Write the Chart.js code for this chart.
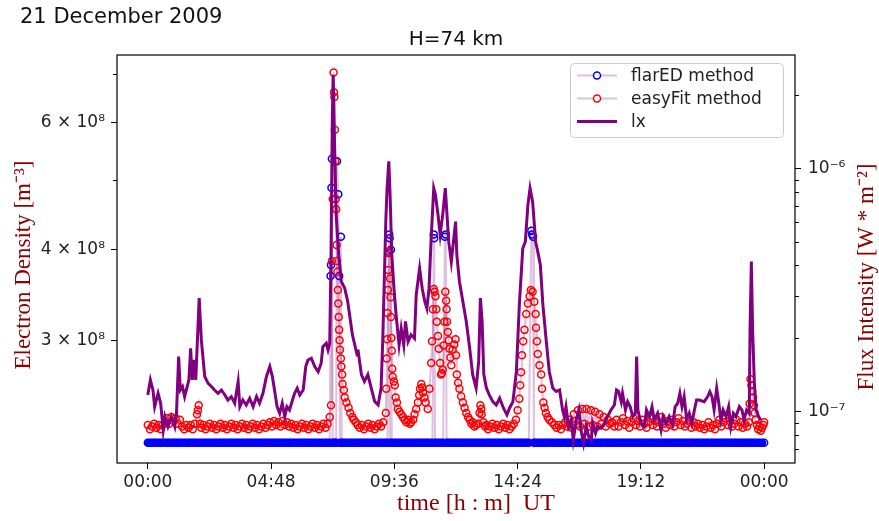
<!DOCTYPE html>
<html>
<head>
<meta charset="utf-8">
<script src="https://cdn.jsdelivr.net/npm/chart.js@4.4.1/dist/chart.umd.min.js"></script>
<style>
  html, body { margin: 0; padding: 0; background: #fff; }
  canvas { display: block; }
</style>
</head>
<body>
<canvas id="fluxChart" width="879" height="521"></canvas>
<script>
// units used in the arrays below
const NE_UNIT = 1e8;   // electron density, m^-3
const LX_UNIT = 1e-7;  // X-ray flux, W m^-2

// x axis: minutes since 00:00 UT
const xTickMin = [0, 288, 576, 864, 1152, 1440];
const xTickLabels = ["00:00", "04:48", "09:36", "14:24", "19:12", "00:00"];

// left axis ticks (log)
const neTicks = [3e8, 4e8, 6e8];
const neTickLabels = ["3 × 10⁸", "4 × 10⁸", "6 × 10⁸"];
const neMinor = [5e8, 7e8];

// right axis ticks (log)
const lxTicks = [1e-7, 1e-6];
const lxTickLabels = ["10⁻⁷", "10⁻⁶"];
const lxMinor = [7e-8, 8e-8, 9e-8, 2e-7, 3e-7, 4e-7, 5e-7, 6e-7, 7e-7, 8e-7, 9e-7, 2e-6];

// flarED method (Ne, x1e8)
const flaredMin = [
    0, 5, 10, 15, 20, 25, 30, 35, 40, 45,
    50, 55, 60, 65, 70, 75, 80, 85, 90, 95,
    100, 105, 110, 115, 120, 125, 130, 135, 140, 145,
    150, 155, 160, 165, 170, 175, 180, 185, 190, 195,
    200, 205, 210, 215, 220, 225, 230, 235, 240, 245,
    250, 255, 260, 265, 270, 275, 280, 285, 290, 295,
    300, 305, 310, 315, 320, 325, 330, 335, 340, 345,
    350, 355, 360, 365, 370, 375, 380, 385, 390, 395,
    400, 405, 410, 415, 420, 425, 427, 428, 429, 430,
    432, 435, 438, 440, 442, 445, 447, 449, 451, 453,
    455, 460, 465, 470, 475, 480, 485, 490, 495, 500,
    505, 510, 515, 520, 525, 530, 535, 540, 545, 550,
    555, 560, 563, 564, 565, 566, 568, 570, 575, 580,
    585, 590, 595, 600, 605, 610, 615, 620, 625, 630,
    635, 640, 645, 650, 655, 660, 665, 668, 669, 671,
    675, 680, 685, 690, 694, 696, 698, 700, 705, 710,
    715, 720, 725, 730, 735, 740, 745, 750, 755, 760,
    765, 770, 775, 780, 785, 790, 795, 800, 805, 810,
    815, 820, 825, 830, 835, 840, 845, 850, 855, 860,
    865, 870, 875, 880, 885, 890, 896, 898, 900, 902,
    905, 910, 915, 920, 925, 930, 935, 940, 945, 950,
    955, 960, 965, 970, 975, 980, 985, 990, 995, 1000,
    1005, 1010, 1015, 1020, 1025, 1030, 1035, 1040, 1045, 1050,
    1055, 1060, 1065, 1070, 1075, 1080, 1085, 1090, 1095, 1100,
    1105, 1110, 1115, 1120, 1125, 1130, 1135, 1140, 1145, 1150,
    1155, 1160, 1165, 1170, 1175, 1180, 1185, 1190, 1195, 1200,
    1205, 1210, 1215, 1220, 1225, 1230, 1235, 1240, 1245, 1250,
    1255, 1260, 1265, 1270, 1275, 1280, 1285, 1290, 1295, 1300,
    1305, 1310, 1315, 1320, 1325, 1330, 1335, 1340, 1345, 1350,
    1355, 1360, 1365, 1370, 1375, 1380, 1385, 1390, 1395, 1400,
    1405, 1410, 1415, 1420, 1425, 1430, 1435, 1440
];
const flaredNe = [
    2.165, 2.165, 2.165, 2.165, 2.165, 2.165, 2.165, 2.165, 2.165, 2.165,
    2.165, 2.165, 2.165, 2.165, 2.165, 2.165, 2.165, 2.165, 2.165, 2.165,
    2.165, 2.165, 2.165, 2.165, 2.165, 2.165, 2.165, 2.165, 2.165, 2.165,
    2.165, 2.165, 2.165, 2.165, 2.165, 2.165, 2.165, 2.165, 2.165, 2.165,
    2.165, 2.165, 2.165, 2.165, 2.165, 2.165, 2.165, 2.165, 2.165, 2.165,
    2.165, 2.165, 2.165, 2.165, 2.165, 2.165, 2.165, 2.165, 2.165, 2.165,
    2.165, 2.165, 2.165, 2.165, 2.165, 2.165, 2.165, 2.165, 2.165, 2.165,
    2.165, 2.165, 2.165, 2.165, 2.165, 2.165, 2.165, 2.165, 2.165, 2.165,
    2.165, 2.165, 2.165, 2.165, 2.165, 2.165, 3.68, 3.81, 4.87, 5.34,
    2.165, 2.165, 2.165, 2.165, 5.30, 4.77, 3.68, 2.165, 4.17, 2.165,
    2.165, 2.165, 2.165, 2.165, 2.165, 2.165, 2.165, 2.165, 2.165, 2.165,
    2.165, 2.165, 2.165, 2.165, 2.165, 2.165, 2.165, 2.165, 2.165, 2.165,
    2.165, 2.165, 3.96, 4.20, 4.15, 2.165, 4.00, 2.165, 2.165, 2.165,
    2.165, 2.165, 2.165, 2.165, 2.165, 2.165, 2.165, 2.165, 2.165, 2.165,
    2.165, 2.165, 2.165, 2.165, 2.165, 2.165, 2.165, 4.20, 4.15, 2.165,
    2.165, 2.165, 2.165, 2.165, 4.17, 4.20, 2.165, 2.165, 2.165, 2.165,
    2.165, 2.165, 2.165, 2.165, 2.165, 2.165, 2.165, 2.165, 2.165, 2.165,
    2.165, 2.165, 2.165, 2.165, 2.165, 2.165, 2.165, 2.165, 2.165, 2.165,
    2.165, 2.165, 2.165, 2.165, 2.165, 2.165, 2.165, 2.165, 2.165, 2.165,
    2.165, 2.165, 2.165, 2.165, 2.165, 2.165, 4.25, 4.20, 4.17, 2.165,
    2.165, 2.165, 2.165, 2.165, 2.165, 2.165, 2.165, 2.165, 2.165, 2.165,
    2.165, 2.165, 2.165, 2.165, 2.165, 2.165, 2.165, 2.165, 2.165, 2.165,
    2.165, 2.165, 2.165, 2.165, 2.165, 2.165, 2.165, 2.165, 2.165, 2.165,
    2.165, 2.165, 2.165, 2.165, 2.165, 2.165, 2.165, 2.165, 2.165, 2.165,
    2.165, 2.165, 2.165, 2.165, 2.165, 2.165, 2.165, 2.165, 2.165, 2.165,
    2.165, 2.165, 2.165, 2.165, 2.165, 2.165, 2.165, 2.165, 2.165, 2.165,
    2.165, 2.165, 2.165, 2.165, 2.165, 2.165, 2.165, 2.165, 2.165, 2.165,
    2.165, 2.165, 2.165, 2.165, 2.165, 2.165, 2.165, 2.165, 2.165, 2.165,
    2.165, 2.165, 2.165, 2.165, 2.165, 2.165, 2.165, 2.165, 2.165, 2.165,
    2.165, 2.165, 2.165, 2.165, 2.165, 2.165, 2.165, 2.165, 2.165, 2.165,
    2.165, 2.165, 2.165, 2.165, 2.165, 2.165, 2.165, 2.165
];

// easyFit method (Ne, x1e8)
const easyMin = [
    0, 5, 10, 15, 20, 25, 30, 35, 40, 45,
    50, 55, 60, 65, 70, 75, 80, 85, 90, 95,
    100, 105, 110, 115, 117, 119, 122, 125, 130, 135,
    140, 145, 150, 155, 160, 165, 170, 175, 180, 185,
    190, 195, 200, 205, 210, 215, 220, 225, 230, 235,
    240, 245, 250, 255, 260, 265, 270, 275, 280, 285,
    290, 295, 300, 305, 310, 315, 320, 325, 330, 335,
    340, 345, 350, 355, 360, 365, 370, 375, 380, 385,
    390, 395, 400, 405, 410, 415, 420, 425, 428, 430,
    432, 434, 435, 436, 437, 438, 439, 440, 441, 442,
    443, 444, 445, 446, 447, 448, 449, 451, 452, 454,
    455, 458, 460, 464, 469, 473, 478, 481, 486, 490,
    495, 500, 505, 510, 515, 520, 525, 530, 535, 540,
    545, 550, 556, 557, 558, 559, 560, 561, 562, 563,
    564, 566, 567, 568, 569, 570, 571, 572, 575, 577,
    579, 582, 584, 588, 592, 596, 600, 604, 608, 612,
    615, 620, 623, 627, 631, 634, 636, 639, 641, 643,
    646, 649, 654, 658, 662, 664, 666, 668, 670, 672,
    674, 675, 678, 680, 683, 685, 687, 689, 691, 693,
    695, 697, 698, 699, 701, 703, 705, 707, 709, 712,
    716, 719, 720, 722, 725, 728, 732, 736, 740, 744,
    748, 752, 756, 759, 763, 767, 772, 775, 777, 779,
    780, 784, 788, 791, 795, 800, 805, 810, 815, 820,
    825, 830, 835, 840, 845, 850, 855, 860, 864, 868,
    870, 872, 874, 877, 880, 884, 888, 892, 895, 899,
    903, 906, 907, 909, 911, 915, 919, 921, 924, 927,
    930, 934, 938, 944, 950, 955, 960, 965, 970, 975,
    980, 985, 990, 995, 1000, 1005, 1010, 1015, 1020, 1025,
    1030, 1035, 1040, 1045, 1050, 1055, 1060, 1065, 1070, 1075,
    1080, 1085, 1090, 1095, 1100, 1105, 1110, 1115, 1120, 1125,
    1130, 1135, 1140, 1145, 1150, 1155, 1160, 1165, 1170, 1175,
    1180, 1185, 1190, 1195, 1200, 1205, 1210, 1215, 1220, 1225,
    1230, 1235, 1240, 1245, 1250, 1255, 1260, 1265, 1270, 1275,
    1280, 1285, 1290, 1295, 1300, 1305, 1310, 1315, 1320, 1325,
    1330, 1335, 1340, 1345, 1350, 1355, 1360, 1365, 1370, 1375,
    1380, 1385, 1390, 1395, 1400, 1404, 1406, 1408, 1410, 1412,
    1414, 1416, 1418, 1420, 1423, 1426, 1429, 1432, 1435, 1438,
    1440
];
const easyNe = [
    2.29, 2.26, 2.28, 2.30, 2.27, 2.29, 2.26, 2.29, 2.31, 2.34,
    2.30, 2.35, 2.32, 2.34, 2.30, 2.33, 2.28, 2.26, 2.29, 2.27,
    2.29, 2.26, 2.30, 2.37, 2.40, 2.44, 2.30, 2.27, 2.29, 2.26,
    2.28, 2.30, 2.27, 2.29, 2.26, 2.28, 2.30, 2.27, 2.29, 2.26,
    2.28, 2.30, 2.27, 2.29, 2.26, 2.28, 2.30, 2.27, 2.29, 2.26,
    2.28, 2.30, 2.27, 2.29, 2.26, 2.28, 2.30, 2.27, 2.29, 2.31,
    2.28, 2.32, 2.29, 2.31, 2.28, 2.32, 2.29, 2.31, 2.28, 2.30,
    2.27, 2.29, 2.26, 2.28, 2.30, 2.27, 2.29, 2.26, 2.28, 2.30,
    2.27, 2.29, 2.26, 2.28, 2.30, 2.27, 2.30, 2.35, 2.44, 3.86,
    4.70, 7.03, 6.60, 6.50, 5.86, 5.30, 4.70, 4.55, 4.06, 3.86,
    3.73, 3.52, 3.37, 3.23, 3.10, 3.00, 2.91, 2.83, 2.76, 2.69,
    2.61, 2.56, 2.50, 2.46, 2.42, 2.38, 2.35, 2.33, 2.31, 2.29,
    2.27, 2.29, 2.26, 2.28, 2.30, 2.27, 2.29, 2.26, 2.28, 2.30,
    2.28, 2.31, 2.38, 2.57, 2.83, 3.01, 3.27, 3.52, 3.75, 3.96,
    3.98, 3.65, 3.44, 3.23, 3.02, 2.90, 2.74, 2.67, 2.63, 2.60,
    2.50, 2.46, 2.41, 2.39, 2.37, 2.35, 2.33, 2.31, 2.33, 2.30,
    2.31, 2.33, 2.37, 2.41, 2.46, 2.52, 2.57, 2.61, 2.58, 2.54,
    2.50, 2.46, 2.41, 2.57, 2.79, 2.99, 3.31, 3.53, 3.50, 3.45,
    3.31, 3.18, 3.04, 2.92, 2.79, 2.69, 2.70, 2.73, 2.95, 3.18,
    3.50, 3.40, 3.31, 3.18, 3.08, 3.00, 2.92, 2.84, 2.77, 2.91,
    2.96, 3.01, 2.86, 2.69, 2.62, 2.57, 2.51, 2.46, 2.42, 2.38,
    2.35, 2.33, 2.30, 2.31, 2.28, 2.29, 2.30, 2.38, 2.44, 2.41,
    2.37, 2.31, 2.28, 2.29, 2.26, 2.28, 2.30, 2.27, 2.29, 2.26,
    2.28, 2.30, 2.27, 2.29, 2.26, 2.28, 2.30, 2.33, 2.40, 2.49,
    2.60, 2.71, 2.86, 2.99, 3.10, 3.26, 3.37, 3.45, 3.52, 3.50,
    3.39, 3.26, 3.12, 2.99, 2.87, 2.77, 2.69, 2.57, 2.46, 2.42,
    2.38, 2.35, 2.33, 2.31, 2.29, 2.27, 2.29, 2.26, 2.29, 2.31,
    2.28, 2.33, 2.27, 2.37, 2.29, 2.40, 2.28, 2.41, 2.30, 2.41,
    2.28, 2.40, 2.29, 2.39, 2.28, 2.37, 2.30, 2.35, 2.28, 2.33,
    2.30, 2.31, 2.28, 2.33, 2.28, 2.31, 2.34, 2.29, 2.32, 2.27,
    2.31, 2.34, 2.29, 2.32, 2.28, 2.33, 2.30, 2.27, 2.31, 2.34,
    2.29, 2.32, 2.28, 2.31, 2.35, 2.30, 2.27, 2.32, 2.29, 2.33,
    2.28, 2.31, 2.34, 2.29, 2.32, 2.28, 2.30, 2.33, 2.27, 2.31,
    2.28, 2.30, 2.27, 2.29, 2.26, 2.28, 2.31, 2.27, 2.29, 2.26,
    2.30, 2.33, 2.28, 2.31, 2.34, 2.29, 2.32, 2.28, 2.30, 2.33,
    2.28, 2.31, 2.27, 2.30, 2.28, 2.31, 2.45, 2.65, 2.60, 2.55,
    2.50, 2.44, 2.38, 2.33, 2.29, 2.26, 2.28, 2.25, 2.27, 2.29,
    2.31
];

// GOES X-ray flux lx (x1e-7 W m^-2)
const lxMin = [
    0, 6, 12, 16, 24, 30, 36, 40, 47, 55,
    63, 67, 72, 76, 81, 86, 92, 96, 100, 104,
    107, 112, 120, 125, 133, 141, 149, 156, 164, 172,
    180, 187, 195, 203, 211, 215, 222, 230, 238, 246,
    254, 261, 269, 277, 285, 291, 296, 302, 308, 314,
    320, 325, 331, 338, 343, 349, 355, 363, 369, 374,
    382, 390, 398, 405, 409, 417, 421, 425, 428, 431,
    433, 436, 440, 446, 452, 460, 467, 478, 489, 491,
    499, 506, 514, 522, 530, 538, 545, 549, 556, 559,
    563, 566, 570, 575, 580, 587, 592, 598, 602, 608,
    615, 623, 627, 635, 641, 647, 652, 657, 662, 668,
    672, 678, 683, 689, 695, 699, 703, 709, 714, 719,
    722, 728, 736, 744, 752, 759, 767, 773, 777, 781,
    785, 791, 798, 806, 814, 822, 831, 839, 845, 853,
    861, 868, 876, 882, 888, 893, 899, 906, 911, 917,
    923, 931, 938, 946, 954, 962, 969, 973, 977, 983,
    989, 994, 1001, 1007, 1012, 1018, 1024, 1030, 1036, 1039,
    1046, 1051, 1059, 1067, 1074, 1082, 1090, 1095, 1100, 1106,
    1109, 1116, 1121, 1127, 1133, 1139, 1142, 1145, 1152, 1160,
    1165, 1172, 1178, 1183, 1191, 1199, 1204, 1211, 1218, 1226,
    1232, 1238, 1243, 1248, 1253, 1259, 1265, 1271, 1277, 1282,
    1288, 1300, 1308, 1313, 1318, 1323, 1329, 1333, 1339, 1344,
    1351, 1357, 1362, 1368, 1374, 1382, 1388, 1393, 1399, 1405,
    1407, 1410, 1413, 1417, 1421, 1427, 1432
];
const lxFlux = [
    1.171, 1.351, 1.228, 1.048, 1.19, 1.083, 0.841, 0.954, 0.868, 0.954,
    0.868, 0.985, 1.684, 1.228, 1.267, 1.153, 1.267, 1.351, 1.823, 1.351,
    1.632, 1.351, 2.93, 1.973, 1.393, 1.308, 1.267, 1.228, 1.19, 1.228,
    1.171, 1.117, 1.153, 1.083, 1.329, 1.048, 1.117, 1.065, 1.135, 1.048,
    1.153, 1.083, 1.19, 1.393, 1.532, 1.393, 1.228, 1.048, 0.985, 1.083,
    0.954, 1.048, 1.016, 1.117, 1.19, 1.248, 1.171, 1.228, 1.532, 1.632,
    1.658, 1.532, 1.461, 1.582, 1.852, 1.914, 1.795, 1.914, 4.40, 15.6,
    24.3, 13.3, 6.45, 4.40, 3.43, 3.22, 2.84, 2.07, 1.71, 1.80,
    1.42, 1.33, 1.42, 1.25, 1.10, 1.065, 1.25, 2.00, 6.05, 8.30,
    10.7, 7.80, 4.40, 3.22, 2.50, 1.88, 2.20, 1.88, 2.35, 1.94,
    2.07, 2.00, 3.02, 3.89, 3.22, 2.84, 2.66, 3.22, 5.17, 8.30,
    7.80, 6.45, 5.34, 6.45, 8.30, 6.45, 5.00, 4.14, 5.00, 6.05,
    4.40, 3.43, 2.84, 2.35, 1.82, 1.42, 1.25, 1.61, 2.93, 2.35,
    1.42, 1.25, 1.17, 1.10, 1.065, 1.135, 1.033, 0.97, 1.033, 1.10,
    1.46, 2.75, 4.70, 5.00, 7.09, 8.30, 7.30, 5.00, 4.55, 4.02,
    2.75, 1.94, 1.46, 1.25, 1.21, 1.228, 1.016, 0.954, 1.048, 0.868,
    0.924, 0.765, 0.924, 1.016, 0.841, 0.741, 0.868, 0.789, 0.765, 0.896,
    0.815, 0.868, 0.855, 0.896, 0.954, 1.016, 1.065, 1.228, 1.208, 1.099,
    1.19, 1.016, 1.099, 1.048, 0.954, 0.985, 1.684, 1.016, 0.896, 0.868,
    1.016, 0.954, 1.048, 0.924, 0.985, 0.841, 0.954, 0.896, 0.954, 0.882,
    1.048, 1.083, 1.19, 1.048, 1.153, 0.924, 0.985, 0.896, 1.016, 1.117,
    1.117, 1.099, 1.153, 1.208, 1.153, 1.016, 1.248, 1.117, 0.924, 1.016,
    0.954, 1.048, 0.868, 0.985, 0.954, 1.048, 1.016, 0.924, 1.016, 0.985,
    2.17, 4.14, 2.17, 1.308, 1.016, 0.954, 0.924
];

const toPoints = (xs, ys, unit) => xs.map((x, i) => ({ x: x, y: ys[i] * unit }));

const tickFont = { family: "DejaVu Sans", size: 17 };
const labelColor = "#8b0000";
const linkColor = "rgba(128, 0, 128, 0.25)";

// frame, minor ticks, legend and all the text around the axes
const decorations = {
    id: "decorations",
    afterDraw(chart) {
        const { ctx, chartArea: a } = chart;
        const yL = chart.scales.yL;
        const yR = chart.scales.yR;
        ctx.save();

        ctx.strokeStyle = "#000";
        ctx.lineWidth = 1.2;
        ctx.strokeRect(a.left, a.top, a.right - a.left, a.bottom - a.top);

        // minor ticks
        ctx.lineWidth = 1;
        ctx.beginPath();
        neMinor.forEach((v) => {
            const y = Math.round(yL.getPixelForValue(v)) + 0.5;
            ctx.moveTo(a.left - 4, y);
            ctx.lineTo(a.left, y);
        });
        lxMinor.forEach((v) => {
            const y = Math.round(yR.getPixelForValue(v)) + 0.5;
            ctx.moveTo(a.right, y);
            ctx.lineTo(a.right + 4, y);
        });
        ctx.stroke();

        // legend
        const lg = { x: 570, y: 63, w: 213, h: 74 };
        ctx.beginPath();
        ctx.roundRect(lg.x + 0.5, lg.y + 0.5, lg.w, lg.h, 4);
        ctx.fillStyle = "rgba(255, 255, 255, 0.8)";
        ctx.fill();
        ctx.strokeStyle = "#cccccc";
        ctx.lineWidth = 1;
        ctx.stroke();

        const markers = ["blue", "red", null];
        chart.data.datasets.forEach((ds, i) => {
            const y = 75.5 + i * 23;
            ctx.beginPath();
            ctx.moveTo(577, y);
            ctx.lineTo(617, y);
            ctx.strokeStyle = ds.borderColor;
            ctx.lineWidth = ds.borderWidth;
            ctx.stroke();
            if (markers[i]) {
                ctx.beginPath();
                ctx.arc(597, y, 3.5, 0, Math.PI * 2);
                ctx.fillStyle = "#fff";
                ctx.fill();
                ctx.strokeStyle = markers[i];
                ctx.lineWidth = 1.5;
                ctx.stroke();
            }
            ctx.fillStyle = "#222";
            ctx.font = '17px "DejaVu Sans"';
            ctx.textAlign = "left";
            ctx.textBaseline = "middle";
            ctx.fillText(ds.label, 631, y + 1);
        });

        // date and title
        ctx.fillStyle = "#111";
        ctx.textBaseline = "alphabetic";
        ctx.textAlign = "left";
        ctx.font = '21px "DejaVu Sans"';
        ctx.fillText("21 December 2009", 20, 23);
        ctx.textAlign = "center";
        ctx.font = '20px "DejaVu Sans"';
        ctx.fillText("H=74 km", (a.left + a.right) / 2, 45);

        // axis titles
        ctx.fillStyle = labelColor;
        ctx.font = '24px "Liberation Serif"';
        ctx.textBaseline = "middle";
        ctx.fillText("time [h : m]  UT", 476, 504);

        ctx.font = '23px "Liberation Serif"';
        const vertical = (text, x, y) => {
            ctx.save();
            ctx.translate(x, y);
            ctx.rotate(-Math.PI / 2);
            ctx.fillText(text, 0, 0);
            ctx.restore();
        };
        vertical("Electron Density [m⁻³]", 24, 265);
        vertical("Flux Intensity [W * m⁻²]", 867, 277);

        ctx.restore();
    },
};

new Chart(document.getElementById("fluxChart"), {
    type: "line",
    data: {
        datasets: [
            {
                label: "flarED method",
                data: toPoints(flaredMin, flaredNe, NE_UNIT),
                yAxisID: "yL",
                order: 3,
                borderColor: linkColor,
                borderWidth: 2,
                pointRadius: 3.5,
                pointBorderWidth: 1.5,
                pointBorderColor: "blue",
                // the baseline markers sit so close together they read as one solid band
                pointBackgroundColor: (c) =>
                    c.parsed && c.parsed.y < 2.5e8 && c.dataIndex < flaredMin.length - 1
                        ? "blue"
                        : "rgba(0, 0, 0, 0)",
                tension: 0,
            },
            {
                label: "easyFit method",
                data: toPoints(easyMin, easyNe, NE_UNIT),
                yAxisID: "yL",
                order: 2,
                borderColor: linkColor,
                borderWidth: 2,
                pointRadius: 3.5,
                pointBorderWidth: 1.5,
                pointBorderColor: "red",
                pointBackgroundColor: "rgba(0, 0, 0, 0)",
                tension: 0,
            },
            {
                label: "lx",
                data: toPoints(lxMin, lxFlux, LX_UNIT),
                yAxisID: "yR",
                order: 1,
                borderColor: "purple",
                borderWidth: 3,
                pointRadius: 0,
                tension: 0,
            },
        ],
    },
    options: {
        responsive: false,
        animation: false,
        devicePixelRatio: 1,
        events: [],
        layout: { padding: { top: 55, left: 0, right: 0, bottom: 0 } },
        plugins: { legend: { display: false }, tooltip: { enabled: false } },
        scales: {
            x: {
                type: "linear",
                bounds: "data",
                min: -72,
                max: 1512,
                afterBuildTicks: (s) => {
                    s.ticks = xTickMin.map((v) => ({ value: v }));
                },
                afterFit: (s) => {
                    s.height = 58;
                },
                ticks: {
                    callback: (v, i) => xTickLabels[i],
                    font: tickFont,
                    color: "#222",
                    padding: 3,
                    maxRotation: 0,
                    autoSkip: false,
                },
                grid: { drawOnChartArea: false, tickLength: 6, tickColor: "#000" },
                border: { display: false },
            },
            yL: {
                type: "logarithmic",
                position: "left",
                bounds: "data",
                min: 2.03e8,
                max: 7.43e8,
                afterBuildTicks: (s) => {
                    s.ticks = neTicks.map((v) => ({ value: v }));
                },
                afterFit: (s) => {
                    s.width = 117;
                },
                ticks: {
                    callback: (v, i) => neTickLabels[i],
                    font: tickFont,
                    color: "#222",
                    padding: 6,
                    autoSkip: false,
                },
                grid: { drawOnChartArea: false, tickLength: 6, tickColor: "#000" },
                border: { display: false },
            },
            yR: {
                type: "logarithmic",
                position: "right",
                bounds: "data",
                min: 6.15e-8,
                max: 2.93e-6,
                afterBuildTicks: (s) => {
                    s.ticks = lxTicks.map((v) => ({ value: v }));
                },
                afterFit: (s) => {
                    s.width = 84;
                },
                ticks: {
                    callback: (v, i) => lxTickLabels[i],
                    font: tickFont,
                    color: "#222",
                    padding: 7,
                    autoSkip: false,
                },
                grid: { drawOnChartArea: false, tickLength: 6, tickColor: "#000" },
                border: { display: false },
            },
        },
    },
    plugins: [decorations],
});
</script>
</body>
</html>
